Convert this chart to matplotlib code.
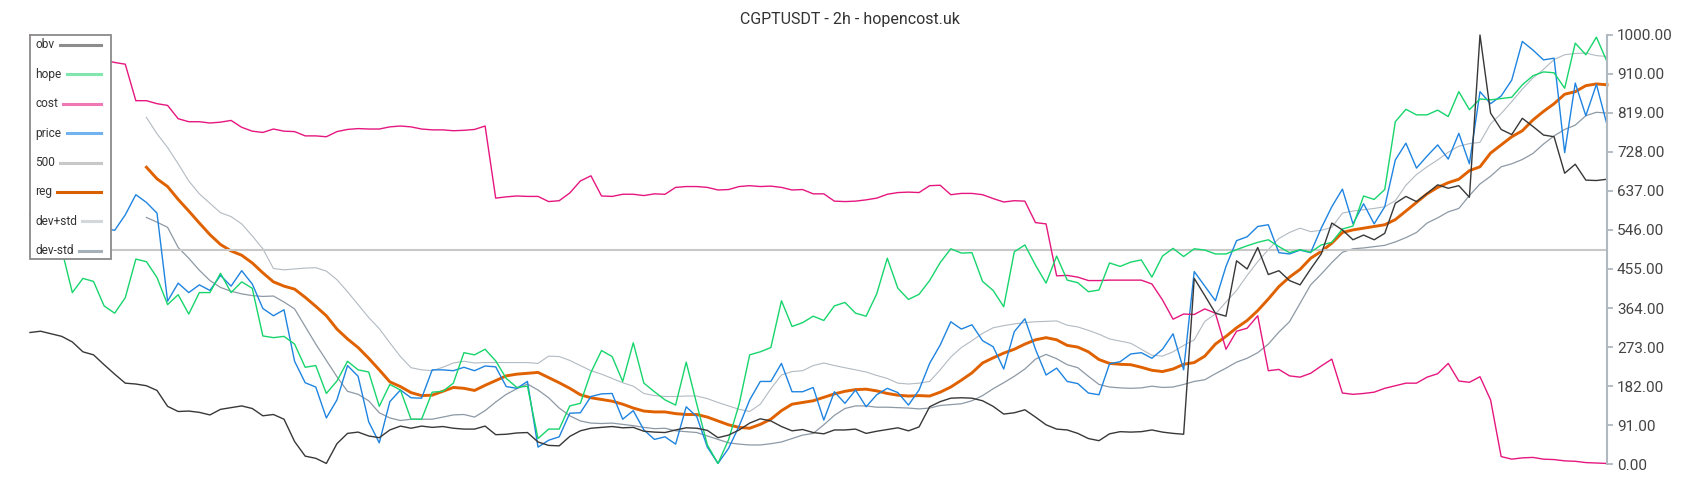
import matplotlib
matplotlib.use("Agg")
import matplotlib.pyplot as plt
from matplotlib.lines import Line2D
from matplotlib.patches import Rectangle
import numpy as np

plt.rcParams['font.family'] = ['Roboto', 'DejaVu Sans']

title = "CGPTUSDT - 2h - hopencost.uk"
series_names = ["obv", "hope", "cost", "price", "500", "reg", "dev+std", "dev-std"]
level_500 = 500
ytick_values = [0, 91, 182, 273, 364, 455, 546, 637, 728, 819, 910, 1000]
ytick_labels = ["0.00", "91.00", "182.00", "273.00", "364.00", "455.00", "546.00",
                "637.00", "728.00", "819.00", "910.00", "1000.00"]

obv = [307, 310, 304, 298, 285, 262, 255, 232, 210, 189,
       187, 183, 172, 135, 123, 124, 121, 115, 128, 132,
       136, 130, 113, 116, 105, 53, 19, 14, 2, 48,
       72, 75, 66, 62, 80, 89, 84, 89, 86, 88,
       84, 82, 82, 89, 69, 70, 73, 74, 52, 44,
       43, 65, 78, 84, 86, 88, 85, 86, 77, 75,
       74, 80, 85, 84, 79, 62, 68, 80, 96, 106,
       101, 88, 78, 81, 74, 71, 80, 80, 82, 72,
       77, 81, 85, 78, 87, 134, 146, 154, 155, 154,
       148, 135, 117, 120, 127, 110, 92, 82, 80, 72,
       60, 55, 71, 76, 75, 76, 80, 75, 72, 70,
       433, 393, 352, 345, 474, 455, 505, 442, 451, 428,
       418, 455, 490, 562, 546, 523, 534, 523, 538, 608,
       624, 612, 631, 651, 643, 649, 622, 1000, 818, 780,
       768, 806, 787, 767, 763, 678, 699, 662, 661, 664]

hope = [560, 540, 520, 500, 400, 433, 426, 369, 352, 388,
        478, 472, 435, 372, 395, 350, 400, 400, 445, 400,
        425, 410, 299, 295, 298, 280, 226, 230, 165, 194,
        240, 220, 215, 135, 186, 173, 105, 105, 168, 170,
        189, 260, 255, 268, 241, 200, 179, 182, 60, 82,
        82, 136, 142, 214, 265, 251, 193, 283, 189, 169,
        150, 138, 238, 140, 45, 2, 57, 140, 255, 262,
        272, 381, 321, 330, 345, 335, 369, 377, 352, 345,
        397, 480, 410, 384, 396, 428, 470, 502, 492, 493,
        426, 405, 367, 495, 511, 464, 422, 485, 429, 423,
        402, 406, 469, 461, 471, 476, 436, 485, 503, 484,
        502, 499, 490, 490, 500, 509, 517, 523, 507, 493,
        500, 494, 511, 517, 548, 555, 625, 617, 640, 798,
        827, 814, 814, 825, 810, 868, 826, 851, 849, 852,
        855, 884, 905, 914, 912, 876, 981, 954, 995, 938]

cost = [1000, 995, 980, 972, 962, 955, 950, 942, 936, 932,
        847, 847, 840, 836, 805, 798, 798, 795, 797, 801,
        785, 776, 773, 781, 776, 775, 765, 765, 763, 775,
        780, 782, 781, 781, 786, 788, 786, 781, 779, 779,
        777, 778, 780, 788, 620, 623, 625, 624, 624, 612,
        614, 632, 660, 672, 625, 624, 629, 629, 626, 630,
        629, 645, 647, 647, 645, 639, 640, 647, 649, 647,
        648, 645, 639, 640, 630, 630, 613, 612, 613, 616,
        620, 629, 633, 634, 633, 649, 650, 628, 631, 631,
        628, 619, 611, 614, 613, 563, 560, 439, 440, 436,
        428, 428, 429, 429, 429, 429, 420, 383, 338, 350,
        349, 362, 352, 268, 310, 317, 346, 218, 221, 206,
        203, 212, 229, 245, 166, 163, 165, 168, 177, 183,
        189, 189, 203, 211, 235, 194, 191, 204, 150, 18,
        12, 15, 16, 12, 11, 8, 7, 4, 3, 2]

price = [580, 570, 565, 575, 568, 560, 555, 550, 545, 581,
         628, 610, 585, 380, 422, 400, 418, 405, 440, 415,
         451, 420, 363, 346, 360, 240, 190, 180, 108, 150,
         230, 205, 99, 50, 146, 173, 155, 154, 220, 220,
         218, 226, 218, 229, 227, 181, 177, 193, 40, 56,
         64, 119, 120, 158, 164, 165, 105, 125, 80, 58,
         64, 47, 134, 111, 40, 2, 37, 89, 150, 193,
         193, 235, 169, 169, 179, 103, 169, 142, 173, 134,
         162, 177, 167, 138, 173, 235, 278, 332, 315, 325,
         288, 274, 222, 309, 339, 268, 208, 224, 193, 188,
         166, 162, 234, 239, 257, 260, 247, 268, 304, 220,
         449, 415, 381, 461, 521, 530, 554, 558, 493, 490,
         499, 493, 550, 600, 641, 560, 607, 560, 600, 709,
         748, 690, 718, 744, 711, 771, 700, 868, 840, 858,
         895, 985, 965, 942, 946, 726, 888, 812, 885, 791]

nan = np.nan
reg = [nan] * 11 + [
    692, 665, 647, 617, 590, 562, 535, 512, 497,
    487, 469, 446, 425, 415, 408, 389, 368, 346, 315,
    292, 272, 247, 220, 192, 181, 167, 160, 161, 170,
    179, 177, 172, 184, 195, 206, 210, 212, 214, 202,
    190, 177, 162, 155, 151, 147, 140, 131, 124, 122,
    122, 118, 116, 116, 110, 101, 92, 86, 84, 93,
    105, 125, 140, 144, 148, 156, 164, 170, 174, 175,
    171, 165, 161, 159, 160, 159, 168, 180, 196, 213,
    236, 248, 259, 268, 280, 290, 295, 290, 277, 273,
    262, 244, 235, 233, 232, 226, 219, 216, 222, 233,
    237, 252, 280, 298, 318, 335, 358, 385, 414, 436,
    454, 480, 496, 515, 540, 546, 550, 554, 558, 570,
    590, 610, 630, 645, 656, 664, 684, 693, 725, 744,
    763, 777, 802, 822, 840, 862, 868, 882, 886, 884]

dev_plus = [nan] * 11 + [
    808, 770, 738, 700, 660, 630, 608, 586, 577,
    560, 532, 502, 456, 453, 455, 457, 458, 450, 430,
    402, 372, 342, 316, 283, 251, 225, 220, 218, 226,
    236, 240, 236, 237, 237, 237, 237, 237, 235, 252,
    251, 242, 230, 218, 210, 200, 190, 182, 165, 160,
    158, 158, 159, 159, 153, 144, 136, 128, 123, 140,
    176, 208, 216, 218, 230, 236, 230, 225, 220, 215,
    207, 200, 189, 187, 189, 193, 220, 250, 272, 288,
    305, 318, 323, 327, 330, 332, 333, 334, 324, 320,
    312, 303, 292, 287, 282, 268, 254, 252, 262, 277,
    290, 333, 350, 378, 405, 440, 472, 500, 526, 540,
    550, 542, 545, 552, 585, 590, 593, 596, 600, 614,
    650, 675, 693, 709, 727, 741, 747, 750, 793, 817,
    845, 874, 900, 920, 943, 954, 957, 958, 952, 950]

dev_minus = [nan] * 11 + [
    575, 564, 552, 505, 480, 452, 428, 412, 403,
    397, 393, 391, 392, 378, 362, 321, 280, 242, 204,
    170, 163, 148, 120, 108, 102, 105, 105, 105, 110,
    115, 116, 110, 125, 145, 163, 176, 187, 173, 155,
    131, 113, 101, 96, 95, 96, 93, 90, 86, 83,
    84, 78, 76, 74, 66, 58, 50, 47, 45, 45,
    48, 52, 60, 68, 72, 92, 114, 130, 136, 136,
    133, 133, 132, 131, 129, 131, 137, 139, 141, 148,
    160, 176, 190, 205, 222, 245, 256, 246, 232, 225,
    205, 186, 180, 178, 177, 178, 182, 179, 180, 186,
    193, 197, 211, 224, 238, 247, 260, 280, 308, 332,
    375, 418, 443, 470, 494, 502, 504, 507, 510, 518,
    528, 540, 562, 574, 588, 596, 626, 653, 671, 693,
    700, 710, 724, 746, 765, 780, 790, 812, 820, 818]

W, H = 1700, 500
fig = plt.figure(figsize=(W / 100, H / 100), dpi=100)
ax = fig.add_axes([30 / W, 1 - 464.3 / H, (1607 - 30) / W, 429.3 / H])

x = np.arange(len(obv))

ax.plot(x, dev_minus, color='#8d99a5', lw=0.9, zorder=1, clip_on=False)
ax.plot(x, dev_plus, color='#b2bac2', lw=0.8, zorder=1.1, clip_on=False)
ax.plot(x, reg, color='#e06100', lw=2.1, zorder=1.2, clip_on=False)
ax.axhline(level_500, color='#c8c8c8', lw=1.5, zorder=1.3)
ax.plot(x, price, color='#1e84e0', lw=1.0, zorder=1.4, clip_on=False)
ax.plot(x, cost, color='#e5177f', lw=1.0, zorder=1.5, clip_on=False)
ax.plot(x, hope, color='#17d56c', lw=1.0, zorder=1.6, clip_on=False)
ax.plot(x, obv, color='#383838', lw=1.0, zorder=1.7, clip_on=False)

ax.set_xlim(0, len(obv) - 1)
ax.set_ylim(0, 1000)
for s in ['left', 'top', 'bottom']:
    ax.spines[s].set_visible(False)
ax.spines['right'].set_color('#b0b8c0')
ax.spines['right'].set_linewidth(1.5)
ax.set_xticks([])
ax.yaxis.tick_right()
ax.set_yticks(ytick_values)
ax.set_yticklabels(ytick_labels)
ax.tick_params(axis='y', direction='out', length=4.2, width=1.3, color='#b0b8c0',
               labelsize=11, labelcolor='#444444', pad=3)

fig.text(0.5, 1 - 19.5 / H, title, ha='center', va='center', fontsize=11.5, color='#333333')

# legend box
box = Rectangle((30 / W, 1 - 259 / H), (111 - 30) / W, (259 - 35) / H,
                transform=fig.transFigure, facecolor='white', edgecolor='#8a8a8a',
                lw=1.3, zorder=5)
fig.add_artist(box)
legend_colors = ['#8c8c8c', '#80e6ae', '#ef78b5', '#72b2ee', '#c8c8c8', '#d86000', '#d2d7db', '#a6b0b8']
texts = []
for k, name in enumerate(series_names):
    yc = 45 + 29.4 * k
    t = fig.text(35.5 / W, 1 - yc / H, name, ha='left', va='center', fontsize=8.6,
                 color='#333333', zorder=6)
    texts.append((t, yc))
fig.canvas.draw()
r = fig.canvas.get_renderer()
for (t, yc), c in zip(texts, legend_colors):
    bb = t.get_window_extent(renderer=r)
    x0 = bb.x1 + 5
    fig.add_artist(Line2D([x0 / W, 101 / W], [1 - yc / H, 1 - yc / H],
                          transform=fig.transFigure, color=c, lw=2.2, zorder=6))

fig.savefig("out.png", dpi=100)
